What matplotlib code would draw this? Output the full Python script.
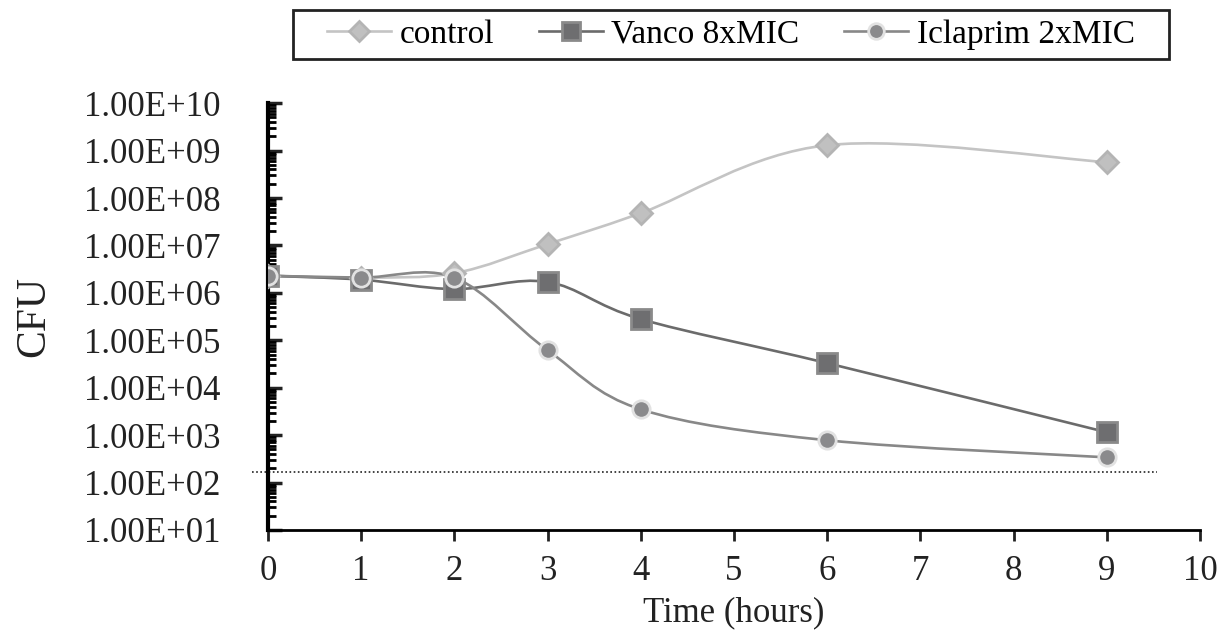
import numpy as np
import matplotlib.pyplot as plt
from matplotlib.path import Path
from matplotlib.patches import PathPatch, Rectangle
from matplotlib.ticker import LogLocator, FixedLocator, NullFormatter

plt.rcParams['font.family'] = ['Liberation Serif', 'DejaVu Serif']

# data
hours = [0, 1, 2, 3, 4, 6, 9]
control = [2.3e6, 2.1e6, 2.6e6, 1.07e7, 4.8e7, 1.3e9, 5.7e8]
vanco = [2.3e6, 1.9e6, 1.2e6, 1.7e6, 2.8e5, 3.3e4, 1.15e3]
iclaprim = [2.3e6, 2.1e6, 2.1e6, 6.2e4, 3.5e3, 7.8e2, 3.4e2]
detection_limit = 1.65e2
ytick_labels = ['1.00E+%02d' % k for k in range(1, 11)]


def smooth_path(x, y):
    # Excel-like smoothed line: Catmull-Rom as cubic Bezier in (x, log y)
    x = np.asarray(x, float)
    ly = np.log10(y)
    pts = np.column_stack([x, ly])
    verts = [pts[0]]
    codes = [Path.MOVETO]
    n = len(pts)
    for i in range(n - 1):
        p0 = pts[i - 1] if i > 0 else pts[i]
        p1 = pts[i]
        p2 = pts[i + 1]
        p3 = pts[i + 2] if i + 2 < n else pts[i + 1]
        c1 = p1 + (p2 - p0) / 6
        c2 = p2 - (p3 - p1) / 6
        verts += [c1, c2, p2]
        codes += [Path.CURVE4] * 3
    verts = np.array(verts)
    verts[:, 1] = 10 ** verts[:, 1]
    return Path(verts, codes)


fig = plt.figure(figsize=(12.32, 6.37), dpi=100)
ax = fig.add_axes([0.2175, 0.168, 0.7565, 0.67])
ax.set_yscale('log')

series = [
    ('control', control, '#c4c4c4', 'D', '#c0c0c0', '#b4b4b4', 11),
    ('Vanco 8xMIC', vanco, '#6b6b6b', 's', '#6e6e70', '#8a8a8a', 14),
    ('Iclaprim 2xMIC', iclaprim, '#888888', 'o', '#8a8a8c', '#e2e2e2', 12.5),
]

for name, vals, lc, mk, fc, ec, ms in series:
    ax.add_patch(PathPatch(smooth_path(hours, vals), fill=False,
                           edgecolor=lc, lw=1.9, zorder=2))
    ax.plot(hours, vals, ls='None', marker=mk, markersize=ms,
            markerfacecolor=fc, markeredgecolor=ec, markeredgewidth=2,
            zorder=3)

ax.plot([-0.17, 9.54], [detection_limit, detection_limit], ls=(0, (1, 1.5)),
        color='#222222', lw=1.2, clip_on=False, zorder=1)

ax.set_xlim(0, 10)
ax.set_ylim(1e1, 1e10)
ax.set_xticks(range(0, 11))
ax.yaxis.set_major_locator(FixedLocator([10.0 ** k for k in range(1, 11)]))
ax.set_yticklabels(ytick_labels)
ax.yaxis.set_minor_locator(LogLocator(base=10, subs=np.arange(2, 10), numticks=20))
ax.yaxis.set_minor_formatter(NullFormatter())

for s in ['top', 'right']:
    ax.spines[s].set_visible(False)
ax.spines['left'].set_linewidth(3)
ax.spines['bottom'].set_linewidth(2)
ax.tick_params(axis='y', which='major', direction='in', length=10, width=2.5,
               labelsize=25, pad=34)
ax.tick_params(axis='y', which='minor', direction='in', length=6, width=2)
ax.tick_params(axis='x', which='major', direction='out', length=8, width=2,
               labelsize=25, pad=10)
ax.tick_params(axis='both', colors='#222222', labelcolor='#222222')

ax.set_xlabel('Time (hours)', fontsize=25, color='#222222', labelpad=6)
ax.set_ylabel('CFU', fontsize=30, color='#222222', labelpad=22)

# legend with line + marker samples
leg_handles = []
for name, vals, lc, mk, fc, ec, ms in series:
    lh, = ax.plot([], [], color=lc, lw=1.9, marker=mk, markersize=ms * 0.9,
                  markerfacecolor=fc, markeredgecolor=ec, markeredgewidth=2)
    leg_handles.append(lh)
leg = fig.legend(leg_handles, [s[0] for s in series], loc='center',
                 bbox_to_anchor=(731 / 1232, 1 - 34.5 / 637), ncol=3,
                 fontsize=24, frameon=False, handlelength=1.92,
                 columnspacing=1.35, handletextpad=0.25, borderpad=0.1)
fig.patches.append(Rectangle((293 / 1232, 1 - 59 / 637), 876 / 1232, 49 / 637,
                             transform=fig.transFigure, fill=False,
                             edgecolor='#222222', lw=2))

fig.savefig('out.png', dpi=100)
